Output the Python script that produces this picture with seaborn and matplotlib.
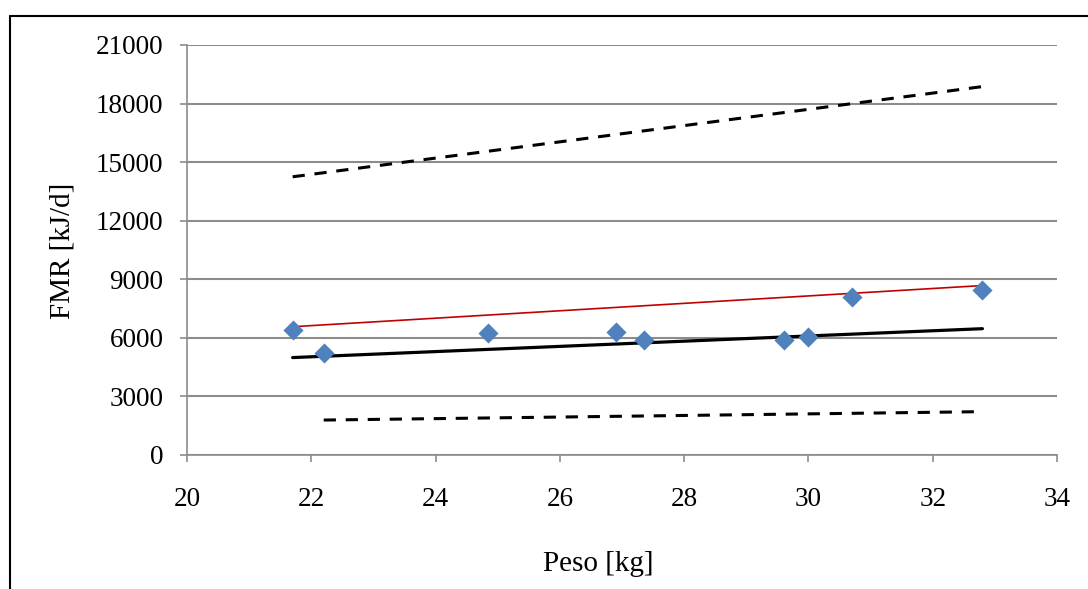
import matplotlib
matplotlib.use("Agg")
import matplotlib.pyplot as plt
from matplotlib.lines import Line2D
import seaborn as sns
import pandas as pd

# Measured body mass and field metabolic rate
peso = [21.7, 22.2, 24.85, 26.9, 27.35, 29.6, 30.0, 30.7, 32.8]
fmr = [6400, 5240, 6230, 6290, 5890, 5890, 6060, 8080, 8450]

# Fitted lines (endpoints)
fit_x = [21.7, 32.8]
fit_y = [4990, 6470]
pred_x = [21.7, 32.8]
pred_y = [6570, 8680]
upper_x = [21.7, 32.8]
upper_y = [14250, 18870]
lower_x = [22.2, 32.8]
lower_y = [1790, 2220]

x_ticks = [20, 22, 24, 26, 28, 30, 32, 34]
y_ticks = [0, 3000, 6000, 9000, 12000, 15000, 18000, 21000]

sns.set_theme(style="white")
plt.rcParams["font.family"] = ["Liberation Serif", "DejaVu Serif"]

W, H, DPI = 1088, 589, 100
fig = plt.figure(figsize=(W / DPI, H / DPI), dpi=DPI, facecolor="white")
ax = fig.add_axes([187 / W, 1 - 455 / H, (1057 - 187) / W, (455 - 45) / H])
ax.set_facecolor("white")

grid_c = "#8c8c8c"
ax.set_xlim(20, 34)
ax.set_ylim(0, 21000)
ax.set_yticks(y_ticks)
ax.set_xticks(x_ticks)
ax.set_yticklabels([str(v) for v in y_ticks])
ax.set_xticklabels([str(v) for v in x_ticks])
ax.yaxis.grid(True, color=grid_c, linewidth=1.5)
ax.xaxis.grid(False)
ax.set_axisbelow(True)
for side in ["top", "right"]:
    ax.spines[side].set_visible(False)
for side in ["left", "bottom"]:
    ax.spines[side].set_color(grid_c)
    ax.spines[side].set_linewidth(1.2)
ax.tick_params(axis="both", which="major", direction="out", length=5,
               width=1.2, color=grid_c, labelsize=19.5, labelcolor="black")
ax.tick_params(axis="x", pad=18, bottom=True)
ax.tick_params(axis="y", pad=12, left=True)

# Lines
sns.lineplot(x=upper_x, y=upper_y, ax=ax, color="black", linewidth=2.2,
             linestyle=(0, (4, 3.2)), estimator=None, sort=False)
sns.lineplot(x=lower_x, y=lower_y, ax=ax, color="black", linewidth=2.2,
             linestyle=(0, (4, 3.2)), estimator=None, sort=False)
sns.lineplot(x=fit_x, y=fit_y, ax=ax, color="black", linewidth=2.3,
             estimator=None, sort=False)
sns.lineplot(x=pred_x, y=pred_y, ax=ax, color="#c00000", linewidth=1.2,
             estimator=None, sort=False)

# Points
df = pd.DataFrame({"Peso": peso, "FMR": fmr})
sns.scatterplot(data=df, x="Peso", y="FMR", ax=ax, marker="D", s=105,
                color="#4f81bd", edgecolor="#4f81bd", linewidth=0, zorder=5)

ax.set_xlabel("")
ax.set_ylabel("")
fig.text(62 / W, 1 - 251 / H, "FMR [kJ/d]", rotation=90, ha="center",
         va="center", fontsize=21, color="black")
fig.text(598 / W, 1 - 564 / H, "Peso [kg]", ha="center", va="center",
         fontsize=21, color="black")

# Chart frame (top and left edges)
fig.add_artist(Line2D([10 / W, 1.0], [1 - 16 / H, 1 - 16 / H],
                      transform=fig.transFigure, color="black", linewidth=1.5))
fig.add_artist(Line2D([10 / W, 10 / W], [0.0, 1 - 16 / H],
                      transform=fig.transFigure, color="black", linewidth=1.5))

fig.savefig("out.png", dpi=DPI, facecolor="white")
